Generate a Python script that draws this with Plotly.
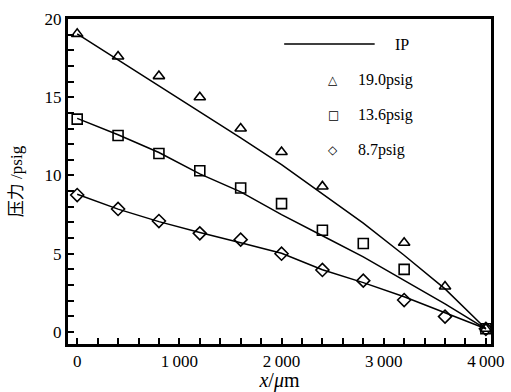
import plotly.graph_objects as go

# Channel position (µm) for the computed pressure profiles
x_pos = [0, 400, 800, 1200, 1600, 2000, 2400, 2800, 3200, 3600, 4000]

# Measured pressures (psig) for three inlet pressures
x_190 = [0, 400, 800, 1200, 1600, 2000, 2400, 3200, 3600, 4000]
p_190 = [19.05, 17.6, 16.35, 15.0, 13.0, 11.5, 9.3, 5.7, 2.9, 0.2]
x_136 = [0, 400, 800, 1200, 1600, 2000, 2400, 2800, 3200, 4000]
p_136 = [13.6, 12.55, 11.4, 10.3, 9.2, 8.2, 6.5, 5.65, 4.0, 0.2]
x_87 = [0, 400, 800, 1200, 1600, 2000, 2400, 2800, 3200, 3600, 4000]
p_87 = [8.75, 7.86, 7.09, 6.3, 5.9, 5.0, 3.96, 3.28, 2.04, 0.98, 0.2]

# Computed (IP) pressure profiles
ip_190 = [19.05, 17.4, 15.75, 14.05, 12.4, 10.7, 8.85, 6.95, 4.9, 2.75, 0.2]
ip_136 = [13.65, 12.6, 11.47, 10.1, 8.95, 7.5, 6.15, 4.8, 3.3, 1.8, 0.2]
ip_87 = [8.8, 7.85, 7.05, 6.35, 5.7, 5.03, 3.98, 3.15, 2.25, 1.2, 0.2]

# Tick marks every 200 µm / 1 psig, labelled every 1000 µm / 5 psig
x_labels = {0: "0", 1000: "1\u2009000", 2000: "2\u2009000", 3000: "3\u2009000", 4000: "4\u2009000"}
y_labels = {0: "0", 5: "5", 10: "10", 15: "15", 20: "20"}
x_ticks = list(range(0, 4001, 200))
y_ticks = list(range(0, 21))
x_tick_text = [x_labels.get(v, "") for v in x_ticks]
y_tick_text = [y_labels.get(v, "") for v in y_ticks]

SERIF = "Liberation Serif"
CLEAR = "rgba(0,0,0,0)"

fig = go.Figure()

for ip in (ip_190, ip_136, ip_87):
    fig.add_trace(go.Scatter(x=x_pos, y=ip, mode="lines",
                             line=dict(color="black", width=1.5),
                             showlegend=False))

for xs, ys, sym in ((x_190, p_190, "triangle-up-open"),
                    (x_136, p_136, "square-open"),
                    (x_87, p_87, "diamond-open")):
    fig.add_trace(go.Scatter(x=xs, y=ys, mode="markers",
                             marker=dict(symbol=sym, color="black", size=10,
                                         line=dict(color="black", width=1.6)),
                             showlegend=False))

fig.update_layout(
    width=511, height=392, template="none",
    margin=dict(l=68, r=20, t=19, b=48),
    font=dict(family=SERIF, color="black", size=17),
    xaxis=dict(
        range=[-90, 4050], tickmode="array", tickvals=x_ticks, ticktext=x_tick_text,
        gridcolor=CLEAR, zerolinecolor=CLEAR,
        showline=True, linecolor="black", linewidth=3, mirror=True,
        ticks="inside", ticklen=6, tickwidth=2, tickcolor="black",
        title=dict(text="<i>x</i>/<i>\u03bc</i>m"),
    ),
    yaxis=dict(
        range=[-0.77, 20], tickmode="array", tickvals=y_ticks, ticktext=y_tick_text,
        gridcolor=CLEAR, zerolinecolor=CLEAR,
        showline=True, linecolor="black", linewidth=3, mirror=True,
        ticks="inside", ticklen=6, tickwidth=2, tickcolor="black",
        title=dict(text="压力 /psig",
                   font=dict(family="Liberation Serif, Noto Sans CJK SC", size=17)),
    ),
)

# Legend key: IP line sample drawn as an annotation arrow without a head
fig.add_annotation(xref="paper", yref="paper", x=0.725, y=0.923, text="",
                   showarrow=True, arrowhead=0, arrowwidth=1.5, arrowcolor="black",
                   ax=-92, ay=0, standoff=0, startstandoff=0)
fig.add_annotation(xref="paper", yref="paper", x=0.768, y=0.923, text="IP",
                   showarrow=False, xanchor="left", yanchor="middle",
                   font=dict(size=16))
legend_rows = [("\u25b3", "19.0psig", 0.812), ("\u25a1", "13.6psig", 0.705),
               ("\u25c7", "8.7psig", 0.597)]
for sym, label, yy in legend_rows:
    fig.add_annotation(xref="paper", yref="paper", x=0.627, y=yy, text=sym,
                       showarrow=False, xanchor="center", yanchor="middle",
                       font=dict(family="DejaVu Sans", size=12))
    fig.add_annotation(xref="paper", yref="paper", x=0.68, y=yy, text=label,
                       showarrow=False, xanchor="left", yanchor="middle",
                       font=dict(size=16))

fig.write_html("out.html")
